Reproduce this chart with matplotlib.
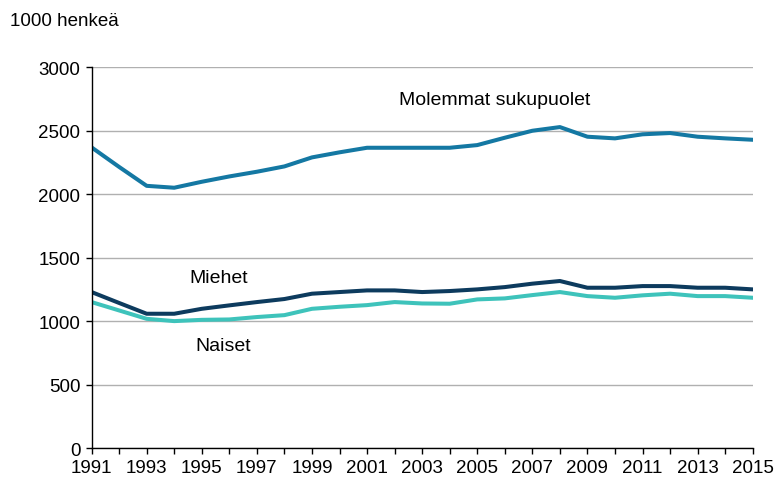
import matplotlib
matplotlib.use("Agg")
import matplotlib.pyplot as plt

years = list(range(1991, 2016))
molemmat = [2369, 2215, 2066, 2051, 2098, 2140, 2177, 2219, 2290, 2330, 2366, 2366,
            2366, 2366, 2387, 2445, 2500, 2529, 2453, 2440, 2472, 2482, 2453, 2440, 2429]
miehet = [1229, 1143, 1058, 1058, 1097, 1124, 1150, 1174, 1216, 1229, 1242, 1242,
          1229, 1237, 1250, 1268, 1295, 1316, 1263, 1263, 1276, 1276, 1263, 1263, 1250]
naiset = [1150, 1084, 1018, 1000, 1010, 1013, 1032, 1047, 1097, 1113, 1126, 1150,
          1139, 1137, 1171, 1179, 1205, 1229, 1197, 1184, 1203, 1216, 1197, 1197, 1184]
yticks = [0, 500, 1000, 1500, 2000, 2500, 3000]
xlabels = list(range(1991, 2016, 2))

plt.rcParams['font.family'] = ['Liberation Sans', 'DejaVu Sans']

fig = plt.figure(figsize=(7.76, 4.81), dpi=100)
ax = fig.add_axes([0.118, 0.0665, 0.852, 0.7915])

ax.plot(years, molemmat, color='#1478a3', lw=2.9, solid_joinstyle='round')
ax.plot(years, miehet, color='#0d3b5e', lw=2.9, solid_joinstyle='round')
ax.plot(years, naiset, color='#3ec3bb', lw=2.9, solid_joinstyle='round')

ax.set_xlim(1991, 2015)
ax.set_ylim(0, 3000)
ax.set_yticks(yticks)
ax.set_yticklabels([str(v) for v in yticks])
ax.set_xticks(years, minor=False)
ax.set_xticklabels([str(y) if y in xlabels else '' for y in years])
ax.tick_params(axis='both', labelsize=13.5, colors='black', length=4, width=1, direction='out')
ax.tick_params(axis='y', pad=4)
ax.tick_params(axis='x', pad=4)
ax.yaxis.grid(True, color='#b0b0b0', lw=1)
ax.set_axisbelow(True)
for s in ['top', 'right']:
    ax.spines[s].set_visible(False)
for s in ['left', 'bottom']:
    ax.spines[s].set_color('black')
    ax.spines[s].set_linewidth(1)

ax.text(2005.64, 2750, 'Molemmat sukupuolet', fontsize=14, ha='center', va='center')
ax.text(1995.62, 1340, 'Miehet', fontsize=14, ha='center', va='center')
ax.text(1995.77, 810, 'Naiset', fontsize=14, ha='center', va='center')
fig.text(10/776, 1 - 22/481, '1000 henkeä', fontsize=13.5, ha='left', va='center')

fig.savefig('out.png', dpi=100)
